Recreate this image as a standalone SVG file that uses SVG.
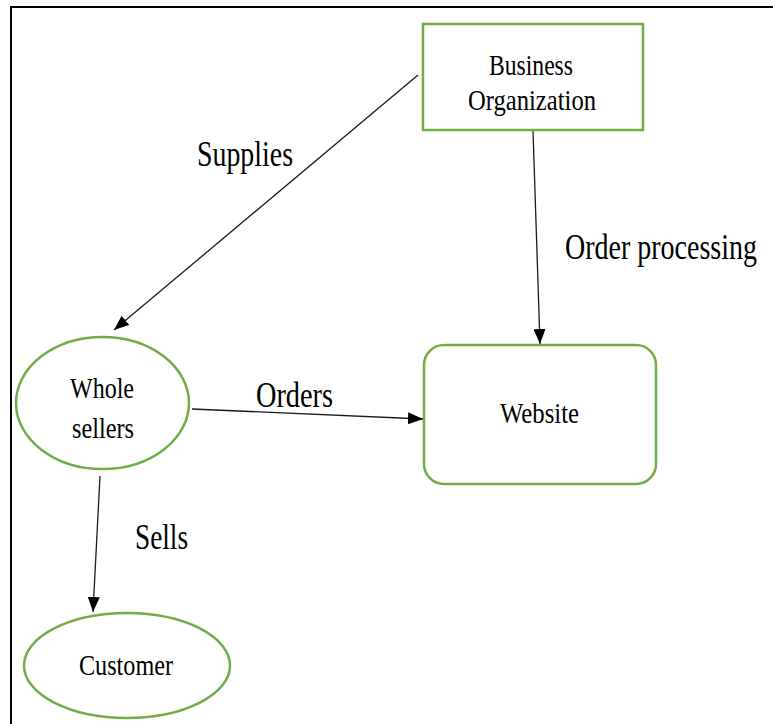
<svg xmlns="http://www.w3.org/2000/svg" width="773" height="724" viewBox="0 0 773 724">
  <style>
    .node { fill: #ffffff; stroke: #70AD47; stroke-width: 2.5; }
    .conn { stroke: #1a1a1a; stroke-width: 1.3; fill: none; marker-end: url(#arrow); }
    .nt { font-family: "Liberation Serif", "Times New Roman", serif; font-size: 30px; fill: #000; }
    .lt { font-family: "Liberation Serif", "Times New Roman", serif; font-size: 35px; fill: #000; }
    .frame { stroke: #000; stroke-width: 2; fill: none; }
  </style>
  <defs>
    <marker id="arrow" markerUnits="userSpaceOnUse" markerWidth="16" markerHeight="12" refX="15" refY="6" orient="auto">
      <path d="M0,0 L15,6 L0,12 Z" fill="#000"/>
    </marker>
  </defs>
  <rect width="773" height="724" fill="#ffffff"/>
  <path class="frame" d="M11,724 L11,7 L773,7"/>

  <g id="connectors">
    <line class="conn" x1="418" y1="75" x2="114" y2="330"/>
    <line class="conn" x1="533" y1="131" x2="540" y2="344"/>
    <line class="conn" x1="192" y1="409" x2="423" y2="419"/>
    <line class="conn" x1="100" y1="476" x2="93" y2="612"/>
    <text class="lt" x="197" y="166" textLength="96" lengthAdjust="spacingAndGlyphs">Supplies</text>
    <text class="lt" transform="translate(565,259) scale(0.8,1)" x="0" y="0">Order processing</text>
    <text class="lt" x="256" y="407" textLength="77" lengthAdjust="spacingAndGlyphs">Orders</text>
    <text class="lt" x="135" y="549" textLength="53" lengthAdjust="spacingAndGlyphs">Sells</text>
  </g>

  <g id="business-organization">
    <rect class="node" x="423" y="24" width="220" height="106"/>
    <text class="nt" x="489" y="75" textLength="84" lengthAdjust="spacingAndGlyphs">Business</text>
    <text class="nt" x="468" y="110" textLength="128" lengthAdjust="spacingAndGlyphs">Organization</text>
  </g>

  <g id="whole-sellers">
    <ellipse class="node" cx="102.5" cy="403" rx="86.5" ry="66"/>
    <text class="nt" x="70" y="398" textLength="64" lengthAdjust="spacingAndGlyphs">Whole</text>
    <text class="nt" x="72" y="438" textLength="62" lengthAdjust="spacingAndGlyphs">sellers</text>
  </g>

  <g id="website">
    <rect class="node" x="424" y="345" width="232" height="139" rx="20" ry="20"/>
    <text class="nt" x="500" y="423" textLength="79" lengthAdjust="spacingAndGlyphs">Website</text>
  </g>

  <g id="customer">
    <ellipse class="node" cx="127" cy="665.5" rx="103" ry="52.5"/>
    <text class="nt" x="79" y="675" textLength="94" lengthAdjust="spacingAndGlyphs">Customer</text>
  </g>
</svg>
